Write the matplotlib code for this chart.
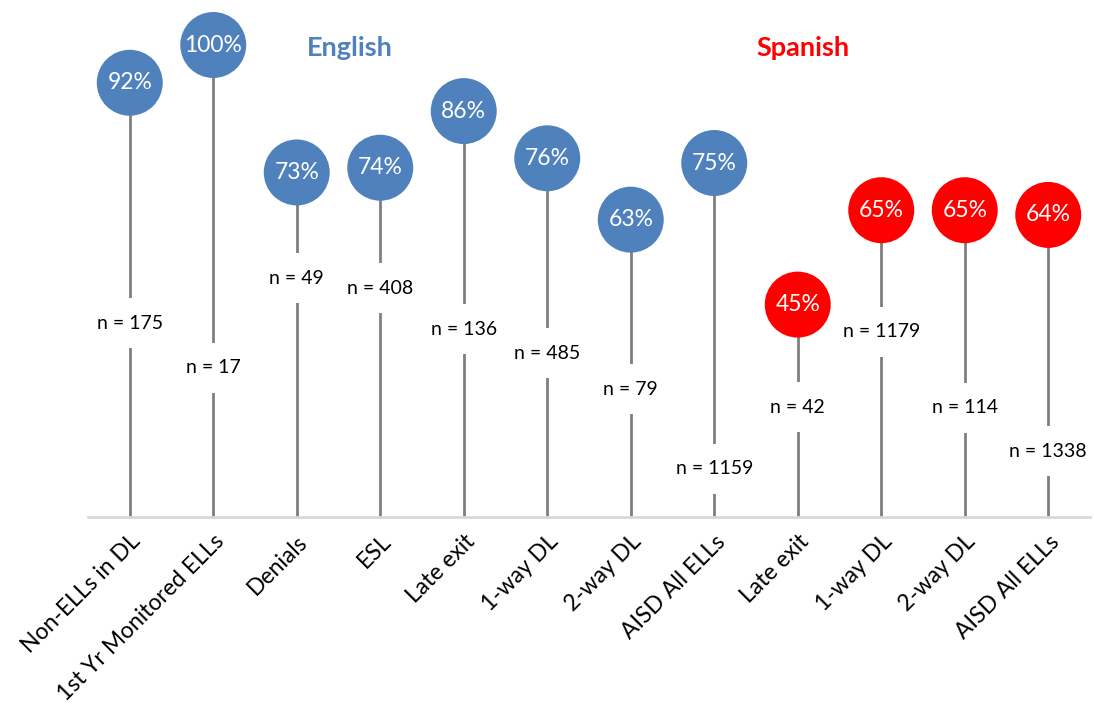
import matplotlib
matplotlib.use("Agg")
import matplotlib.pyplot as plt

categories = ["Non-ELLs in DL", "1st Yr Monitored ELLs", "Denials", "ESL", "Late exit",
              "1-way DL", "2-way DL", "AISD All ELLs", "Late exit", "1-way DL",
              "2-way DL", "AISD All ELLs"]
values = [92, 100, 73, 74, 86, 76, 63, 75, 45, 65, 65, 64]
n_labels = ["n = 175", "n = 17", "n = 49", "n = 408", "n = 136", "n = 485",
            "n = 79", "n = 1159", "n = 42", "n = 1179", "n = 114", "n = 1338"]
n_label_pos = [41.1, 31.6, 50.6, 48.5, 39.8, 34.7, 27.1, 10.2, 23.3, 39.2, 23.1, 13.9]
language = ["English"] * 8 + ["Spanish"] * 4

BLUE = "#4F81BD"
RED = "#FF0000"
colors = [BLUE if l == "English" else RED for l in language]

plt.rcParams['font.family'] = ['Lato', 'DejaVu Sans']

fig = plt.figure(figsize=(10.94, 7.17), dpi=100)
ax = fig.add_axes([88 / 1094, 200 / 717, 1002 / 1094, 517 / 717])
ax.set_xlim(-0.5, len(categories) - 0.5)
ax.set_ylim(0, 517 / 4.72)

x = list(range(len(categories)))
ax.vlines(x, 0, values, color="#7F7F7F", linewidth=2, zorder=1)
ax.scatter(x, values, s=47.5 ** 2, c=colors, zorder=3, linewidths=0)
for xi, v in zip(x, values):
    ax.text(xi, v, f"{v}%", ha="center", va="center", color="white",
            fontsize=16.5, zorder=4)
for xi, lab, yp in zip(x, n_labels, n_label_pos):
    ax.text(xi, yp, lab, ha="center", va="center", color="black", fontsize=14,
            zorder=2, bbox=dict(boxstyle="square,pad=0.85", fc="white", ec="none"))

for s in ["top", "right", "left"]:
    ax.spines[s].set_visible(False)
ax.spines["bottom"].set_color("#D9D9D9")
ax.spines["bottom"].set_linewidth(2)
ax.set_yticks([])
ax.set_xticks(x)
ax.set_xticklabels(categories, rotation=45, ha="right", rotation_mode="anchor",
                   fontsize=16.5)
ax.tick_params(axis="x", length=0, pad=10)

fig.text(350 / 1094, 1 - 48 / 717, "English", color=BLUE, fontsize=19.5,
         fontweight="bold", ha="center", va="center")
fig.text(803 / 1094, 1 - 48 / 717, "Spanish", color=RED, fontsize=19.5,
         fontweight="bold", ha="center", va="center")

fig.savefig("out.png", dpi=100)
